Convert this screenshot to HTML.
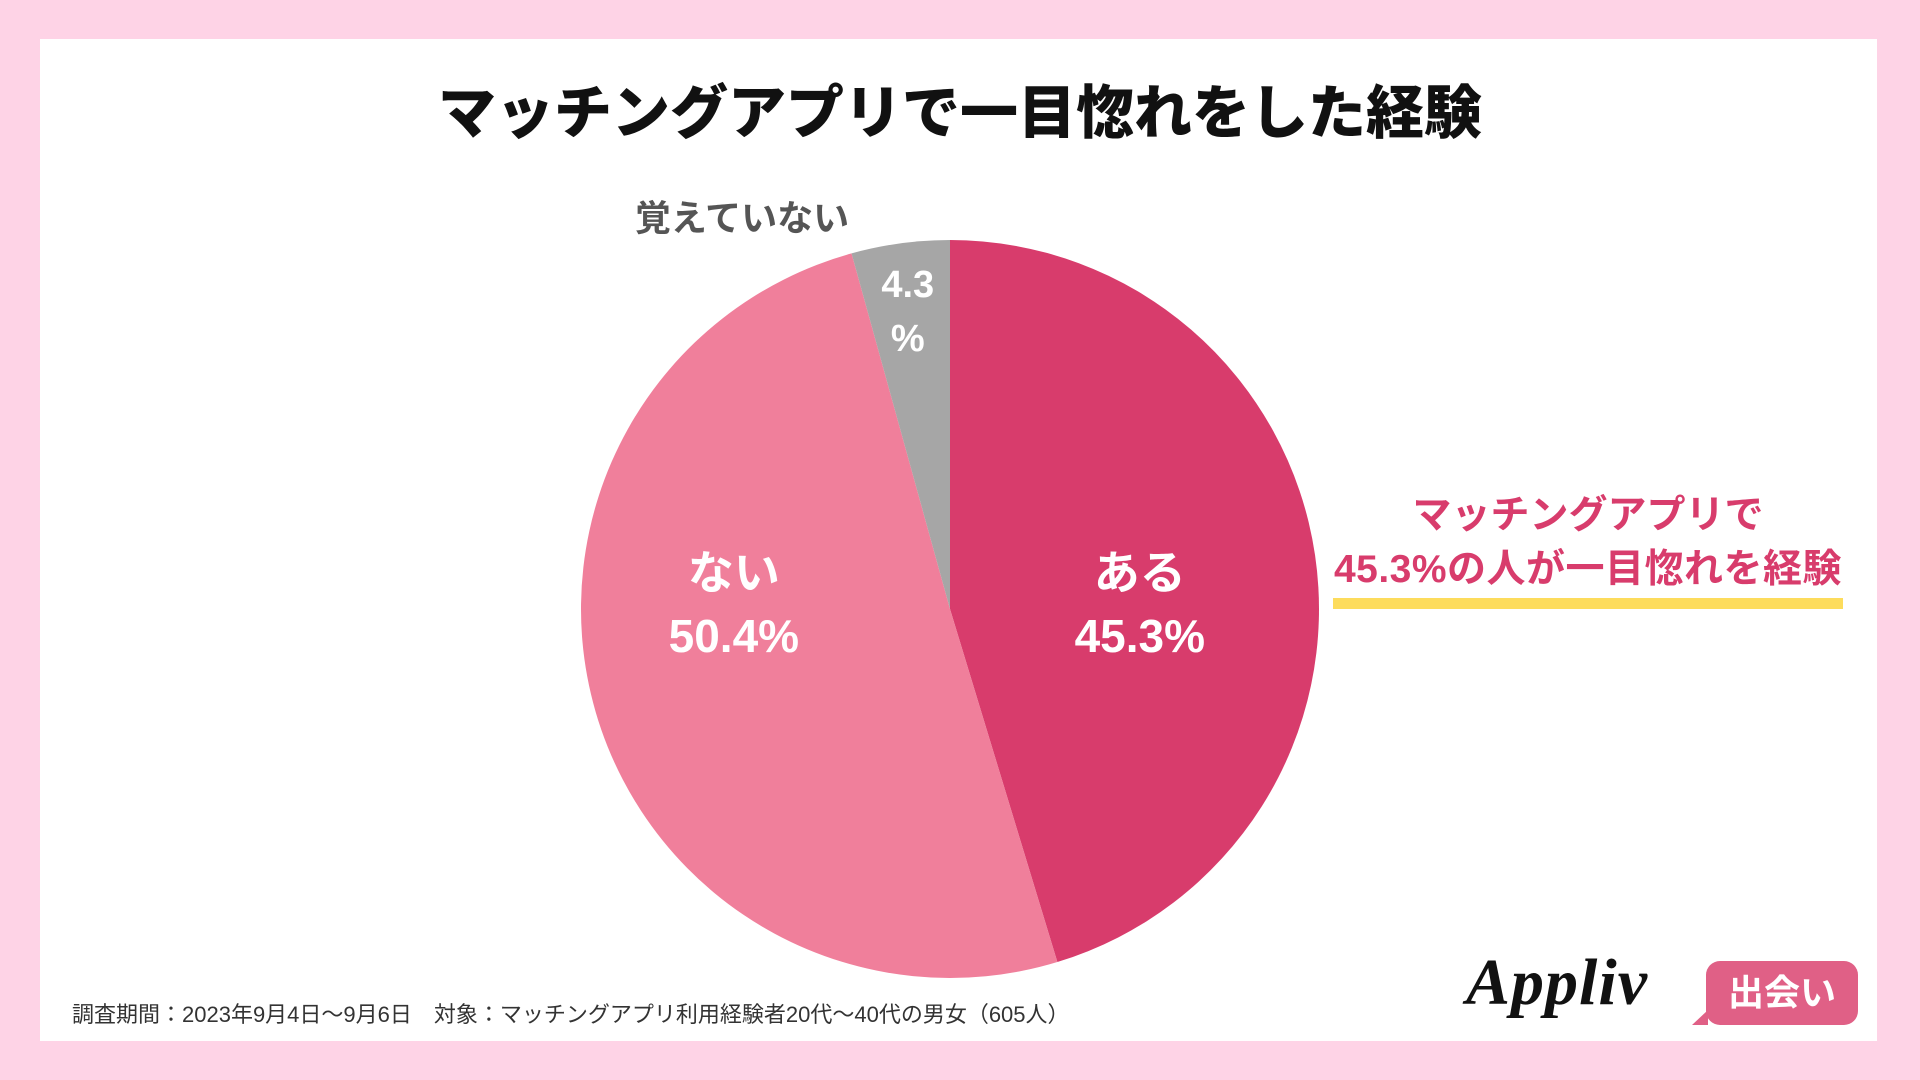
<!DOCTYPE html>
<html><head><meta charset="utf-8"><style>
body{margin:0;width:1920px;height:1080px;background:#fed3e6;position:relative;overflow:hidden;font-family:"Liberation Sans","Noto Sans CJK JP",sans-serif}
#panel{position:absolute;left:40px;top:39px;width:1837px;height:1002px;background:#fff}
.t{position:absolute;white-space:nowrap;transform:translate(-50%,-50%);font-weight:bold}
</style></head><body>
<div id="panel"></div>
<div class="t" style="left:960px;top:108px;font-size:58px;font-weight:900;color:#111">マッチングアプリで一目惚れをした経験</div>
<svg id="pie" width="1920" height="1080" style="position:absolute;left:0;top:0"></svg>
<div class="t" style="left:1588px;top:512px;font-size:39px;color:#d83c6c">マッチングアプリで</div>
<div style="position:absolute;left:1333px;top:598px;width:510px;height:11px;background:#fddc5c"></div>
<div class="t" style="left:1588px;top:566px;font-size:39px;color:#d83c6c;letter-spacing:0.5px">45.3%の人が一目惚れを経験</div>
<div style="position:absolute;left:72px;top:997px;font-size:22px;color:#333;white-space:nowrap">調査期間：2023年9月4日～9月6日　対象：マッチングアプリ利用経験者20代～40代の男女（605人）</div>
<div style="position:absolute;left:1466px;top:945px;font-family:'Liberation Serif',serif;font-style:italic;font-weight:bold;font-size:66px;color:#111;letter-spacing:1px">Appliv</div>
<div style="position:absolute;left:1706px;top:961px;width:152px;height:64px;background:#e06086;border-radius:14px;color:#fff;font-size:36px;line-height:64px;text-align:center;font-weight:bold">出会い</div>
<div style="position:absolute;left:1692px;top:1010px;width:0;height:0;border-left:16px solid transparent;border-bottom:15px solid #e06086"></div>
<script>
const categories=["ある","ない","覚えていない"];
const values=[45.3,50.4,4.3];
const colors=["#d83c6c","#f07f9b","#a6a6a6"];
const svg=document.getElementById('pie');
const NS="http://www.w3.org/2000/svg";
const cx=950,cy=609,r=369;
const total=values.reduce((a,b)=>a+b,0);
function pt(a,rr){return [cx+rr*Math.sin(a),cy-rr*Math.cos(a)];}
let start=0;
const mids=[];
values.forEach((v,i)=>{
  const ang=v/total*2*Math.PI,end=start+ang;
  const [x1,y1]=pt(start,r),[x2,y2]=pt(end,r);
  const p=document.createElementNS(NS,'path');
  p.setAttribute('d',`M${cx},${cy}L${x1},${y1}A${r},${r} 0 ${ang>Math.PI?1:0} 1 ${x2},${y2}Z`);
  p.setAttribute('fill',colors[i]);
  
  
  svg.appendChild(p);
  mids.push(start+ang/2);start=end;
});
function txt(x,y,s,size,fill,name){
  const t=document.createElementNS(NS,'text');
  t.setAttribute('x',x);t.setAttribute('y',y);t.setAttribute('font-size',size);
  t.setAttribute('fill',fill);t.setAttribute('font-weight','bold');
  t.setAttribute('text-anchor','middle');t.setAttribute('dominant-baseline','central');
  t.setAttribute('font-family','"Liberation Sans","Noto Sans CJK JP",sans-serif');
  t.textContent=s;
  
  
  svg.appendChild(t);
}
[0,1].forEach(i=>{
  const [x]=pt(mids[i],r*(i===0?0.52:0.61));
  const ly=cy;
  txt(x,ly-36,categories[i],46,'#fff','slice-label-'+(i+1));
  txt(x,ly+27,values[i].toFixed(1)+'%',46,'#fff','slice-value-'+(i+1));
});
{const [x]=pt(mids[2],r*0.85);
txt(x,285,values[2].toFixed(1),38,'#fff','slice-value-3');
txt(x,339,'%',38,'#fff','slice-value-3-unit');
txt(742,218,categories[2],36,'#555','slice-label-3');}
</script>
</body></html>
